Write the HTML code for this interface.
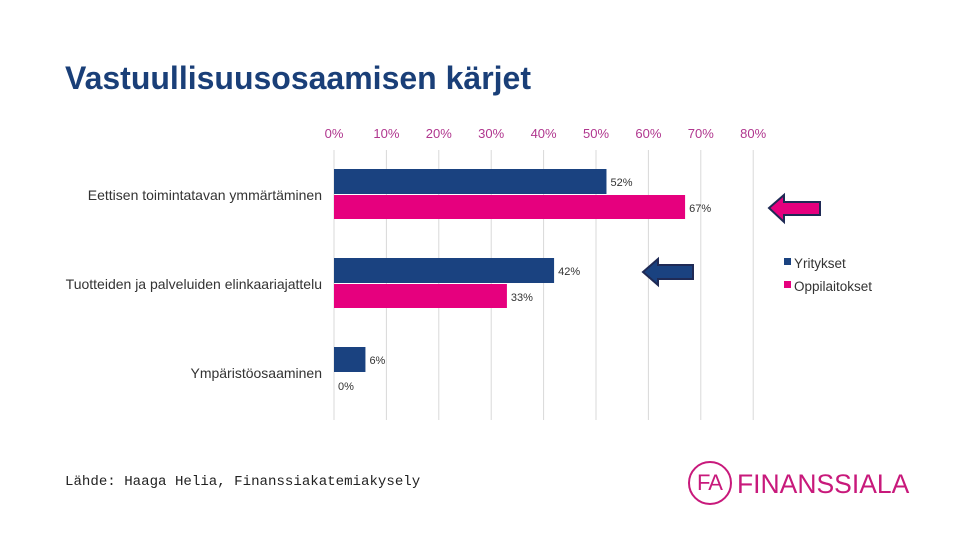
<!DOCTYPE html>
<html><head><meta charset="utf-8"><style>
body{margin:0;width:960px;height:540px;background:#fff;overflow:hidden;font-family:"Liberation Sans",sans-serif;position:relative}
.t{position:absolute;white-space:nowrap}
</style></head><body>
<div class="t" style="left:65px;top:60px;font-size:32px;font-weight:bold;color:#1a3f78">Vastuullisuusosaamisen kärjet</div>
<svg id="c" width="960" height="540" style="position:absolute;left:0;top:0"></svg>
<div class="t" style="left:65px;top:474px;font-family:'Liberation Mono',monospace;font-size:14.1px;color:#222">Lähde: Haaga Helia, Finanssiakatemiakysely</div>
<div style="position:absolute;left:688px;top:461px;width:44px;height:44px;border:2px solid #c8197b;border-radius:50%;box-sizing:border-box"></div>
<div class="t" style="left:697px;top:470px;font-size:22px;color:#c8197b;letter-spacing:-1px">FA</div>
<div class="t" style="left:737px;top:469px;font-size:26.5px;color:#c8197b">FINANSSIALA</div>
<script>
const categories=["Eettisen toimintatavan ymmärtäminen","Tuotteiden ja palveluiden elinkaariajattelu","Ympäristöosaaminen"];
const yritykset=[52,42,6];
const oppilaitokset=[67,33,0];
const ticks=[0,10,20,30,40,50,60,70,80];
const svg=document.getElementById('c');const NS='http://www.w3.org/2000/svg';
const x=v=>334+v*5.24;
const gy=i=>169+i*89;
function mk(t,a,txt){const e=document.createElementNS(NS,t);for(const k in a)e.setAttribute(k,a[k]);if(txt!=null)e.textContent=txt;svg.appendChild(e);return e;}
ticks.forEach(t=>{
 const l=mk('line',{x1:x(t),x2:x(t),y1:150,y2:420,stroke:'#d9d9d9','stroke-width':1});
 
 
 const tx=mk('text',{x:x(t),y:138,'text-anchor':'middle','font-size':13,fill:'#b0368e','font-family':'Liberation Sans'},t+'%');
 
 
});
categories.forEach((c,i)=>{
 const y=gy(i);
 const b1=mk('rect',{x:x(0),y:y,width:x(yritykset[i])-x(0),height:25,fill:'#1a4280'});
 
 
 const b2=mk('rect',{x:x(0),y:y+26,width:x(oppilaitokset[i])-x(0),height:24,fill:'#e6007e'});
 
 
 const l1=mk('text',{x:x(yritykset[i])+4,y:y+17,'font-size':11,fill:'#333','font-family':'Liberation Sans'},yritykset[i]+'%');
 
 
 const l2=mk('text',{x:x(oppilaitokset[i])+4,y:y+43,'font-size':11,fill:'#333','font-family':'Liberation Sans'},oppilaitokset[i]+'%');
 
 
 const cl=mk('text',{x:322,y:y+31,'text-anchor':'end','font-size':14,fill:'#333','font-family':'Liberation Sans'},c);
 
 
});
const a1=mk('polygon',{points:'769,208 784,195 784,202 820,202 820,215 784,215 784,222',fill:'#e6007e',stroke:'#1f2a55','stroke-width':2});


const a2=mk('polygon',{points:'643,272 658,259 658,265 693,265 693,279 658,279 658,285',fill:'#1a4280',stroke:'#1f2a55','stroke-width':2});


[['Yritykset','#1a4280',263],['Oppilaitokset','#e6007e',286]].forEach(([n,col,y])=>{
 const r=mk('rect',{x:784,y:y-5,width:7,height:7,fill:col});
 
 
 const t=mk('text',{x:794,y:y+5,'font-size':13.5,fill:'#333','font-family':'Liberation Sans'},n);
 
 
});
</script>
</body></html>
